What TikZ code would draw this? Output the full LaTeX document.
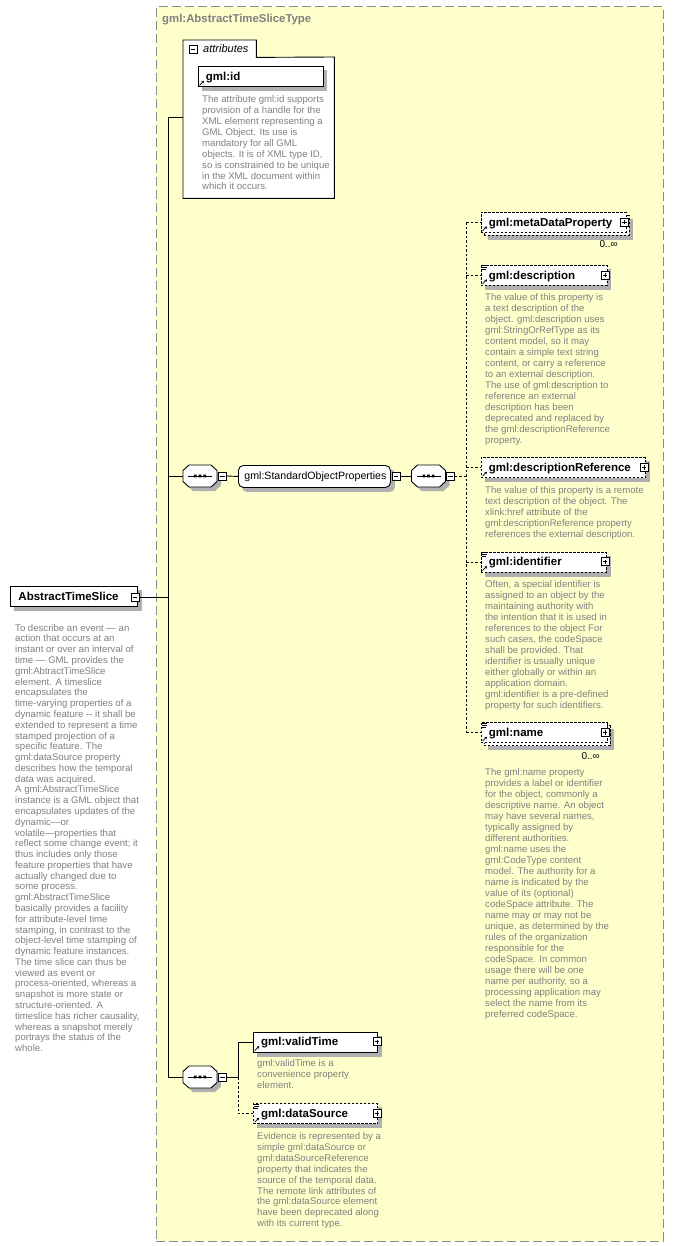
\documentclass[tikz,border=0pt]{standalone}
\usepackage{fontspec}
\setmainfont{Liberation Sans}
\usetikzlibrary{calc,arrows.meta}
\definecolor{bgyellow}{HTML}{FFFFCC}
\definecolor{framegray}{HTML}{8C8C8C}
\definecolor{titlegray}{HTML}{808080}
\definecolor{descgray}{HTML}{808080}
\definecolor{shadowgray}{HTML}{B0B0B0}
\pgfdeclarelayer{shad}
\pgfsetlayers{shad,main}
\newcommand{\myshadow}[1]{%
  \begin{pgfonlayer}{shad}
  \fill[shadowgray] ($(#1.south west)+(4,4)$) rectangle ($(#1.north east)+(4,4)$);
  \end{pgfonlayer}}
\newcommand{\reficon}[1]{%
  \draw[line width=0.7pt,-{Stealth[length=2.6pt,width=2.8pt]}] ($(#1.south west)+(2,-2)$) -- ($(#1.south west)+(6.5,-6.5)$);}
\newcommand{\contenticon}[1]{%
  \draw[line width=0.6pt] ($(#1.north west)+(1.5,0.6)$) -- ++(5,0)
    ($(#1.north west)+(1.5,2.6)$) -- ++(5,0)
    ($(#1.north west)+(1.5,4.6)$) -- ++(4,0);}
\newcommand{\seqoct}[3]{%
  \node[minimum width=34pt,minimum height=22pt,inner sep=0pt] (#1) at (#2,#3) {};
  \begin{pgfonlayer}{shad}
  \fill[shadowgray,shift={({#2+4},{#3+4})}] (-11,-11) -- (11,-11) -- (17,-5.5) -- (17,5.5) -- (11,11) -- (-11,11) -- (-17,5.5) -- (-17,-5.5) -- cycle;
  \end{pgfonlayer}
  \filldraw[fill=white,draw=black,line width=0.9pt,shift={(#2,#3)}] (-11,-11) -- (11,-11) -- (17,-5.5) -- (17,5.5) -- (11,11) -- (-11,11) -- (-17,5.5) -- (-17,-5.5) -- cycle;
  \draw[line width=0.9pt,shift={(#2,#3)}] (-12,0) -- (12,0);
  \fill[shift={(#2,#3)}] (-5.9,-1.3) rectangle (-3.3,1.3) (-1.3,-1.3) rectangle (1.3,1.3) (3.3,-1.3) rectangle (5.9,1.3);}
\begin{document}
\begin{tikzpicture}[x=1pt,y=-1pt,
  conn/.style={line width=0.9pt,draw=black},
  optconn/.style={conn,dash pattern=on 2.5pt off 2pt},
  elem/.style={draw=black,fill=white,line width=0.9pt,anchor=north west,minimum height=20pt,inner xsep=8pt,inner ysep=0pt,align=left,text height=9.5pt,text depth=2pt,font=\bfseries\fontsize{11.5}{13}\selectfont},
  optelem/.style={elem,dash pattern=on 2.5pt off 1.5pt},
  desc/.style={anchor=north west,inner sep=0pt,align=left,text=descgray,font=\fontsize{9.6}{10.9}\selectfont},
  pmbox/.style={draw=black,fill=white,line width=0.6pt,minimum size=8pt,inner sep=0pt},
  minusbox/.style={pmbox,path picture={\draw[line width=0.6pt] ([xshift=1.8pt]path picture bounding box.west) -- ([xshift=-1.8pt]path picture bounding box.east);}},
  plusbox/.style={pmbox,path picture={\draw[line width=0.6pt] ([xshift=1.8pt]path picture bounding box.west) -- ([xshift=-1.8pt]path picture bounding box.east) ([yshift=-1.8pt]path picture bounding box.north) -- ([yshift=1.8pt]path picture bounding box.south);}},
  mult/.style={anchor=base east,inner sep=0pt,font=\fontsize{10}{12}\selectfont},
]
\useasboundingbox (0,0) rectangle (673,1246);
\begin{pgfonlayer}{shad}
  \fill[white] (0,0) rectangle (673,1246);
  \node[draw=framegray,fill=bgyellow,line width=1pt,dash pattern=on 9pt off 4pt,anchor=north west,minimum width=507pt,minimum height=1234pt,inner sep=0pt] (typebox) at (155.5,6.5) {};
  \node[minimum width=73pt,minimum height=17pt,anchor=north west,inner sep=0pt] (attrtab) at (183,40) {};
  \node[minimum width=151pt,minimum height=141pt,anchor=north west,inner sep=0pt] (attrbox) at (183,57) {};
  \filldraw[fill=white,draw=black,line width=0.9pt] (attrbox.south west) -- (attrtab.north west) -- (attrtab.north east) -- (attrtab.south east) -- (attrbox.north east) -- (attrbox.south east) -- cycle;
\end{pgfonlayer}
\node[anchor=base west,inner sep=0pt,font=\bfseries\fontsize{11.4}{13}\selectfont,text=titlegray] (title) at (162,22.5) {gml:AbstractTimeSliceType};
\node[minusbox] (attrmin) at (193,49.5) {};
\node[anchor=base west,inner sep=0pt,font=\itshape\fontsize{11}{13}\selectfont] (attrlabel) at (203,52.5) {attributes};
% gml:id
\node[elem,text width=109pt] (gmlid) at (197.5,66.5) {gml:id};
\myshadow{gmlid}\reficon{gmlid}
\node[desc] (gmliddesc) at (202,94.6) {\rule{0pt}{8pt}The attribute gml:id supports\\provision of a handle for the\\XML element representing a\\GML Object. Its use is\\mandatory for all GML\\objects. It is of XML type ID,\\so is constrained to be unique\\in the XML document within\\which it occurs.};
% AbstractTimeSlice
\node[elem,text width=111pt] (ats) at (10,586) {AbstractTimeSlice};
\myshadow{ats}
\node[minusbox] (atsmin) at (135,597) {};
\node[desc,font=\fontsize{9.6}{10.78}\selectfont] (atsdesc) at (15,623) {\rule{0pt}{8pt}To describe an event — an\\action that occurs at an\\instant or over an interval of\\time — GML provides the\\gml:AbtractTimeSlice\\element. A timeslice\\encapsulates the\\time-varying properties of a\\dynamic feature -{}- it shall be\\extended to represent a time\\stamped projection of a\\specific feature. The\\gml:dataSource property\\describes how the temporal\\data was acquired.\\A gml:AbstractTimeSlice\\instance is a GML object that\\encapsulates updates of the\\dynamic—or\\volatile—properties that\\reflect some change event; it\\thus includes only those\\feature properties that have\\actually changed due to\\some process.\\gml:AbstractTimeSlice\\basically provides a facility\\for attribute-level time\\stamping, in contrast to the\\object-level time stamping of\\dynamic feature instances.\\The time slice can thus be\\viewed as event or\\process-oriented, whereas a\\snapshot is more state or\\structure-oriented.  A\\timeslice has richer causality,\\whereas a snapshot merely\\portrays the status of the\\whole.};
% first sequence
\seqoct{seqA}{200}{476}
\node[minusbox] (seqAmin) at (222.5,476) {};
\node[draw=black,fill=white,rounded corners=5pt,line width=0.9pt,anchor=north west,minimum height=22pt,text width=140pt,inner xsep=6pt,inner ysep=0pt,align=left,text height=8.5pt,text depth=2pt,font=\fontsize{10.6}{12}\selectfont] (sop) at (238,465) {gml:StandardObjectProperties};
\begin{pgfonlayer}{shad}
  \fill[shadowgray,rounded corners=5pt] ($(sop.south west)+(4,4)$) rectangle ($(sop.north east)+(4,4)$);
\end{pgfonlayer}
\node[minusbox] (sopmin) at (396,476) {};
\seqoct{seqB}{428.5}{476}
\node[minusbox] (seqBmin) at (450.5,476) {};
% right column
\node[optelem,text width=129pt] (mdpback) at (483.5,215) {};
\myshadow{mdpback}
\node[optelem,text width=129pt] (mdp) at (480.5,212) {gml:metaDataProperty};
\reficon{mdp}
\node[plusbox] (mdpplus) at (624.5,222) {};
\node[mult] (mdpmult) at (618,248) {0..∞};
\node[optelem,text width=110pt] (descr) at (480.5,265) {gml:description};
\myshadow{descr}\reficon{descr}\contenticon{descr}
\node[plusbox] (descrplus) at (605,275) {};
\node[desc,font=\fontsize{9.6}{11}\selectfont] (descrdesc) at (485,292) {\rule{0pt}{8pt}The value of this property is\\a text description of the\\object. gml:description uses\\gml:StringOrRefType as its\\content model, so it may\\contain a simple text string\\content, or carry a reference\\to an external description.\\The use of gml:description to\\reference an external\\description has been\\deprecated and replaced by\\the gml:descriptionReference\\property.};
\node[optelem,text width=148.5pt] (dref) at (480.5,457.3) {gml:descriptionReference};
\myshadow{dref}\reficon{dref}
\node[plusbox] (drefplus) at (644,467.3) {};
\node[desc,font=\fontsize{9.6}{10.85}\selectfont] (drefdesc) at (485,485.5) {\rule{0pt}{8pt}The value of this property is a remote\\text description of the object. The\\xlink:href attribute of the\\gml:descriptionReference property\\references the external description.};
\node[optelem,text width=109.5pt] (ident) at (480.5,551.7) {gml:identifier};
\myshadow{ident}\reficon{ident}\contenticon{ident}
\node[plusbox] (identplus) at (605,561.7) {};
\node[desc,font=\fontsize{9.6}{11}\selectfont] (identdesc) at (485,579.5) {\rule{0pt}{8pt}Often, a special identifier is\\assigned to an object by the\\maintaining authority with\\the intention that it is used in\\references to the object For\\such cases, the codeSpace\\shall be provided. That\\identifier is usually unique\\either globally or within an\\application domain.\\gml:identifier is a pre-defined\\property for such identifiers.};
\node[optelem,text width=110pt] (nameback) at (483.5,725.3) {};
\myshadow{nameback}
\node[optelem,text width=110pt] (name) at (480.5,722.3) {gml:name};
\reficon{name}\contenticon{name}
\node[plusbox] (nameplus) at (605,732.3) {};
\node[mult] (namemult) at (600,759) {0..∞};
\node[desc,font=\fontsize{9.6}{11}\selectfont] (namedesc) at (485,767.6) {\rule{0pt}{8pt}The gml:name property\\provides a label or identifier\\for the object, commonly a\\descriptive name. An object\\may have several names,\\typically assigned by\\different authorities.\\gml:name uses the\\gml:CodeType content\\model.  The authority for a\\name is indicated by the\\value of its (optional)\\codeSpace attribute.  The\\name may or may not be\\unique, as determined by the\\rules of the organization\\responsible for the\\codeSpace.  In common\\usage there will be one\\name per authority, so a\\processing application may\\select the name from its\\preferred codeSpace.};
% second sequence
\seqoct{seqC}{200}{1077}
\node[minusbox] (seqCmin) at (222.5,1077) {};
\node[elem,text width=108.6pt] (vt) at (252.7,1031.7) {gml:validTime};
\myshadow{vt}\reficon{vt}
\node[plusbox] (vtplus) at (377,1041.7) {};
\node[desc,font=\fontsize{9.6}{11}\selectfont] (vtdesc) at (257,1058.6) {\rule{0pt}{8pt}gml:validTime is a\\convenience property\\element.};
\node[optelem,text width=108.6pt] (ds) at (252.7,1103.3) {gml:dataSource};
\myshadow{ds}\reficon{ds}\contenticon{ds}
\node[plusbox] (dsplus) at (377,1113.3) {};
\node[desc,font=\fontsize{9.6}{10.9}\selectfont] (dsdesc) at (257,1131.3) {\rule{0pt}{8pt}Evidence is represented by a\\simple gml:dataSource or\\gml:dataSourceReference\\property that indicates the\\source of the temporal data.\\The remote link attributes of\\the gml:dataSource element\\have been deprecated along\\with its current type.};
% connectors
\coordinate (busTop) at (168,117);
\coordinate (busMid) at (168,597);
\coordinate (busSeq) at (168,476);
\coordinate (busBot) at (168,1077);
\coordinate (rbus) at (466,476);
\coordinate (lbus) at (238,1077);
\draw[conn] (busTop) -- (busBot);
\draw[conn] (busTop) -- (busTop -| attrbox.west);
\draw[conn] (atsmin.east) -- (busMid);
\draw[conn] (busSeq) -- (seqA.west);
\draw[conn] (busBot) -- (seqC.west);
\draw[conn] (seqAmin.east) -- (sop.west);
\draw[conn] (sopmin.east) -- (seqB.west);
\draw[optconn] (seqBmin.east) -- (rbus);
\draw[optconn] (rbus |- mdp.west) -- (rbus |- name.west);
\draw[optconn] (rbus |- mdp.west) -- (mdp.west);
\draw[optconn] (rbus |- descr.west) -- (descr.west);
\draw[optconn] (rbus |- dref.west) -- (dref.west);
\draw[optconn] (rbus |- ident.west) -- (ident.west);
\draw[optconn] (rbus |- name.west) -- (name.west);
\draw[conn] (seqCmin.east) -- (lbus);
\draw[conn] (lbus) -- (lbus |- vt.west) -- (vt.west);
\draw[optconn] (lbus) -- (lbus |- ds.west) -- (ds.west);
\end{tikzpicture}
\end{document}
